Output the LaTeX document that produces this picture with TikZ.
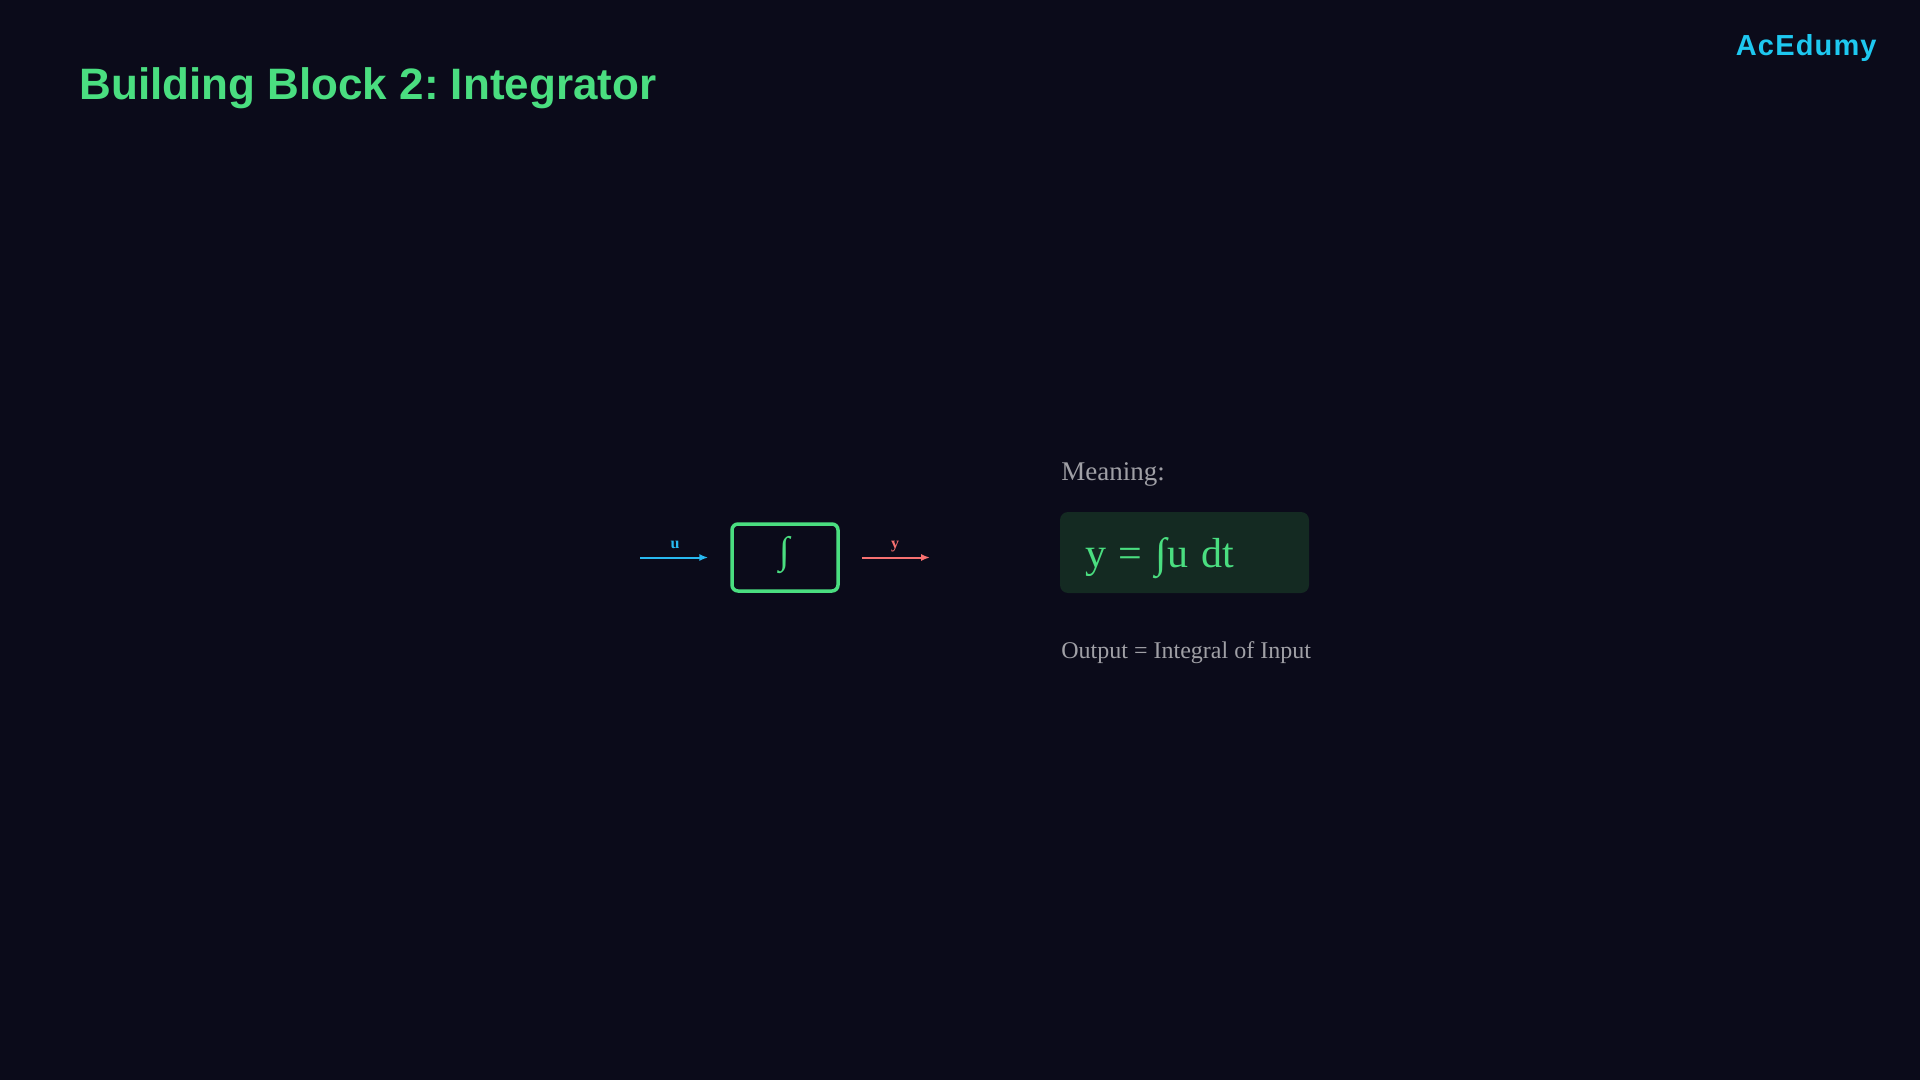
\documentclass[tikz,border=0pt]{standalone}
\usepackage{fontspec}
\setmainfont{Liberation Serif}
\newfontfamily\headfont{Liberation Sans}
\usetikzlibrary{arrows.meta}
\frenchspacing
\definecolor{bgc}{RGB}{11,11,26}
\definecolor{grn}{RGB}{74,222,128}
\definecolor{logoc}{RGB}{30,200,240}
\definecolor{inc}{RGB}{40,185,240}
\definecolor{outc}{RGB}{248,113,113}
\definecolor{gry}{RGB}{160,160,166}
\definecolor{fbox}{RGB}{20,42,34}
\tikzset{
  title/.style={anchor=base west, inner sep=0pt, text=grn, font=\headfont\bfseries\fontsize{22}{26}\selectfont},
  logo/.style={anchor=base east, inner sep=0pt, text=logoc, font=\headfont\bfseries\addfontfeature{LetterSpace=4}\fontsize{14.5}{17}\selectfont},
  blockbox/.style={draw=grn, line width=1.75pt, rounded corners=3pt, minimum width=53pt, minimum height=33.5pt, inner sep=0pt},
  sig/.style={line width=1pt, -{Latex[length=4.5pt,width=3.6pt]}},
  siglbl/.style={font=\bfseries\fontsize{8}{9}\selectfont, inner sep=0pt, anchor=base},
  gtext/.style={anchor=base west, inner sep=0pt, text=gry},
}
\begin{document}
\begin{tikzpicture}[x=0.5pt,y=-0.5pt]
\fill[bgc] (0,0) rectangle (1920,1080);
\useasboundingbox (0,0) rectangle (1920,1080);
\node[title] (ttl) at (79,100) {Building Block 2: Integrator};
\node[logo] (lg) at (1877,56) {AcEdumy};
% block diagram
\coordinate (uin) at (640,557.5);
\node[blockbox] (blk) at (785,557.5) {};
\node[text=grn, inner sep=0pt, font=\fontsize{19}{21}\selectfont] (intg) at (785,555) {∫};
\coordinate (yout) at (930,557.5);
\draw[sig, draw=inc, shorten >=11pt] (uin) -- (blk.west);
\draw[sig, draw=outc, shorten <=11pt] (blk.east) -- (yout);
\node[siglbl, text=inc] (ul) at (675,548) {u};
\node[siglbl, text=outc] (yl) at (895,548) {y};
% meaning
\node[gtext, font=\fontsize{13.5}{16}\selectfont] (mn) at (1061,480) {Meaning:};
\node[fill=fbox, rounded corners=4pt, minimum width=124.5pt, minimum height=40.5pt, inner sep=0pt] (fb) at (1184.5,552.5) {};
\node[anchor=base west, inner sep=0pt, text=grn, font=\fontsize{21}{24}\selectfont] (fm) at (1085,567) {y\hspace{6pt}=\hspace{6.5pt}∫\hspace{0.5pt}u\hspace{6.5pt}dt};
\node[gtext, font=\fontsize{12}{14}\selectfont] (ot) at (1061,658) {Output = Integral of Input};
\end{tikzpicture}
\end{document}
